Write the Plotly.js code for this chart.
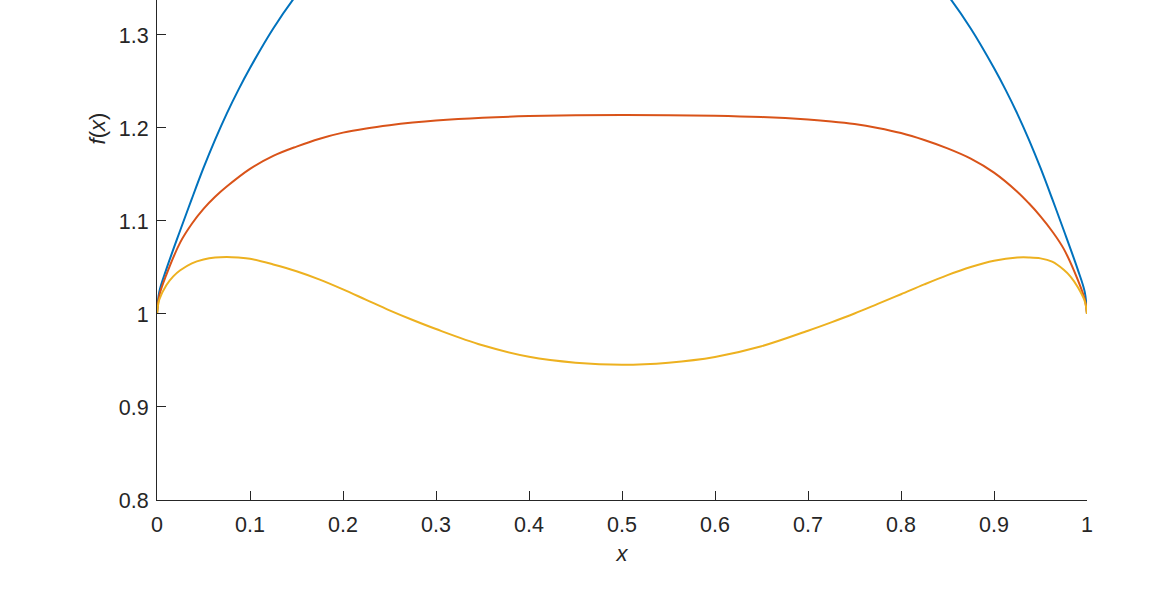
<!DOCTYPE html>
<html>
<head>
<meta charset="utf-8">
<script src="https://cdn.plot.ly/plotly-3.0.1.min.js"></script>
<style>html,body{margin:0;padding:0;background:#fff;}#chart{width:1175px;height:601px;}</style>
</head>
<body>
<div id="chart"></div>
<script>
// Series 1 (blue)
var blueX = [0, 0.0025, 0.01, 0.025, 0.0375, 0.05, 0.0625, 0.075, 0.0875, 0.1, 0.125, 0.15, 0.2, 0.25, 0.3, 0.35, 0.4, 0.45, 0.5,
             0.55, 0.6, 0.65, 0.7, 0.75, 0.8, 0.85, 0.875, 0.9, 0.9125, 0.925, 0.9375, 0.95, 0.9625, 0.975, 0.99, 0.9975, 1];
var blueY = [1.0, 1.024, 1.048, 1.09, 1.124, 1.157, 1.1875, 1.2155, 1.241, 1.2645, 1.307, 1.343, 1.403, 1.448, 1.482, 1.506, 1.521, 1.528, 1.53,
             1.528, 1.521, 1.506, 1.482, 1.448, 1.403, 1.343, 1.307, 1.2645, 1.241, 1.2155, 1.1875, 1.157, 1.124, 1.09, 1.048, 1.024, 1.0];

// Series 2 (orange)
var orangeX = [0, 0.0025, 0.01, 0.025, 0.0375, 0.05, 0.0625, 0.075, 0.1, 0.125, 0.15, 0.175, 0.2, 0.225, 0.25, 0.275, 0.3, 0.35, 0.4, 0.45, 0.5,
               0.55, 0.6, 0.65, 0.7, 0.725, 0.75, 0.775, 0.8, 0.825, 0.85, 0.875, 0.9, 0.925, 0.9375, 0.95, 0.9625, 0.975, 0.99, 0.9975, 1];
var orangeY = [1.0, 1.02, 1.042, 1.077, 1.097, 1.113, 1.126, 1.137, 1.156, 1.170, 1.180, 1.1885, 1.195, 1.1995, 1.203, 1.2058, 1.208, 1.211, 1.2128, 1.2137, 1.214,
               1.2138, 1.2132, 1.2117, 1.209, 1.207, 1.2042, 1.2, 1.1945, 1.187, 1.178, 1.167, 1.152, 1.1315, 1.119, 1.105, 1.089, 1.070, 1.037, 1.016, 1.0];

// Series 3 (yellow)
var yellowX = [0, 0.0025, 0.01, 0.0175, 0.025, 0.0375, 0.05, 0.0625, 0.075, 0.0875, 0.1, 0.125, 0.15, 0.175, 0.2, 0.225, 0.25, 0.275, 0.3, 0.35, 0.4, 0.45, 0.5,
               0.55, 0.6, 0.65, 0.7, 0.725, 0.75, 0.775, 0.8, 0.825, 0.85, 0.875, 0.9, 0.925, 0.9375, 0.95, 0.9625, 0.975, 0.9825, 0.99, 0.9975, 1];
var yellowY = [1.0, 1.0155, 1.031, 1.0405, 1.047, 1.0545, 1.0585, 1.0607, 1.0613, 1.0607, 1.0595, 1.0533, 1.046, 1.037, 1.0265, 1.0152, 1.0039, 0.9935, 0.9838, 0.9663, 0.954, 0.9477, 0.9455,
               0.9477, 0.9538, 0.9653, 0.982, 0.991, 1.0005, 1.0108, 1.0212, 1.0318, 1.0418, 1.0505, 1.0572, 1.0607, 1.0608, 1.0598, 1.0562, 1.0475, 1.040, 1.029, 1.014, 1.0];

// Tick labels
var xTickVals = [0, 0.1, 0.2, 0.3, 0.4, 0.5, 0.6, 0.7, 0.8, 0.9, 1];
var xTickText = ["0", "0.1", "0.2", "0.3", "0.4", "0.5", "0.6", "0.7", "0.8", "0.9", "1"];
var yTickVals = [0.8, 0.9, 1.0, 1.1, 1.2, 1.3];
var yTickText = ["0.8", "0.9", "1", "1.1", "1.2", "1.3"];

var FONT = "Liberation Sans, Arial, Helvetica, sans-serif";
var TXT = "#262626";

function line(x, y, color) {
  return {x: x, y: y, type: "scatter", mode: "lines",
          line: {color: color, width: 2, shape: "spline", smoothing: 1},
          hoverinfo: "skip", showlegend: false};
}

var data = [
  line(blueX, blueY, "#0072BD"),
  line(orangeX, orangeY, "#D95319"),
  line(yellowX, yellowY, "#EDB120")
];

var axisCommon = {
  showgrid: false, zeroline: false, showline: true, linecolor: TXT, linewidth: 1,
  ticks: "inside", ticklen: 9, tickwidth: 1, tickcolor: TXT, tickmode: "array",
  tickfont: {family: FONT, size: 21.5, color: TXT}, mirror: false
};

var layout = {
  width: 1175, height: 601,
  margin: {l: 157, r: 88, t: 0, b: 101, pad: 0},
  paper_bgcolor: "#ffffff", plot_bgcolor: "#ffffff",
  font: {family: FONT, color: TXT},
  xaxis: Object.assign({}, axisCommon, {
    range: [0, 1], tickvals: xTickVals, ticktext: xTickText,
    ticklabelstandoff: 5,
    title: {text: "<i>x</i>", font: {family: FONT, size: 22, color: TXT}, standoff: 9}
  }),
  yaxis: Object.assign({}, axisCommon, {
    range: [0.8, 1.3376], tickvals: yTickVals, ticktext: yTickText,
    ticklabelstandoff: 3
  }),
  annotations: [{
    text: "<i>f</i>(<i>x</i>)", xref: "paper", yref: "y", x: -0.064, y: 1.2,
    xanchor: "center", yanchor: "middle", textangle: -90, showarrow: false,
    font: {family: FONT, size: 22, color: TXT}
  }]
};

Plotly.newPlot("chart", data, layout, {displayModeBar: false, staticPlot: true});
</script>
</body>
</html>
